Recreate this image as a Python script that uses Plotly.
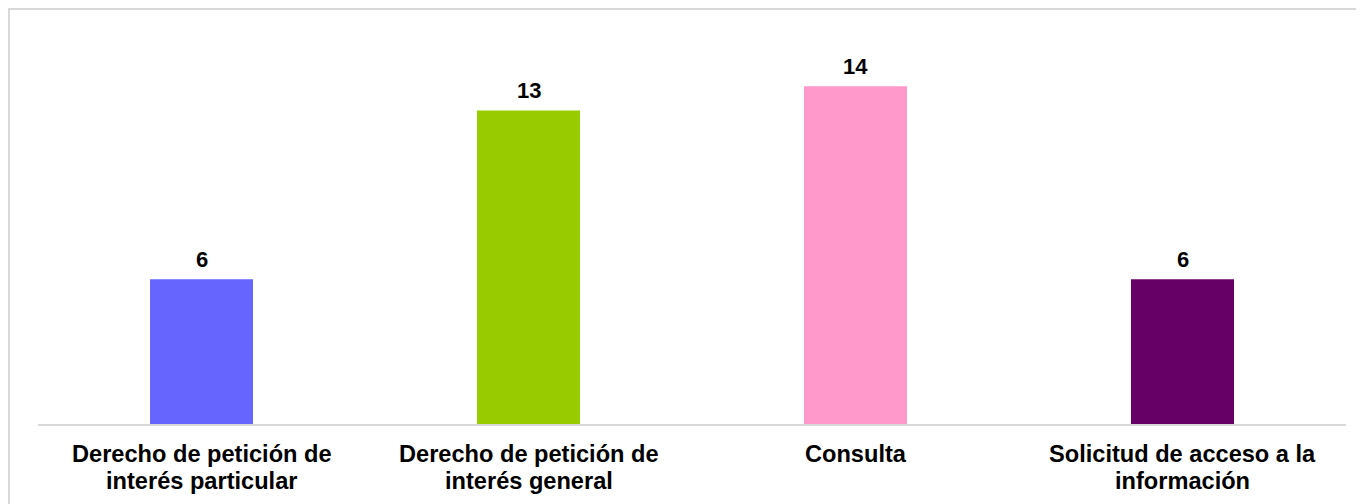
import plotly.graph_objects as go

categories = [["Derecho de petición de", "interés particular"],
              ["Derecho de petición de", "interés general"],
              ["Consulta"],
              ["Solicitud de acceso a la", "información"]]
values = [6, 13, 14, 6]
colors = ["#6666FF", "#99CC00", "#FF99CC", "#660066"]

W, H = 1364, 504
ml, mr, mt, mb = 30, 26, 30, 88
pw, ph = W - ml - mr, H - mt - mb
line_centers_px = [445.5, 472.5]  # vertical centre of each label line, figure pixels

fig = go.Figure()
fig.add_trace(go.Bar(
    x=list(range(len(values))), y=values,
    marker=dict(color=colors, line=dict(width=0)),
    width=0.315,
    hoverinfo="skip",
))

for i, v in enumerate(values):
    fig.add_annotation(x=i, y=v, text=str(v), showarrow=False,
                       yanchor="bottom", yshift=5,
                       font=dict(family="Liberation Sans", size=22, color="#000000", weight="bold"))

for i, lines in enumerate(categories):
    for j, ln in enumerate(lines):
        fig.add_annotation(x=i, xref="x", yref="paper",
                           y=(H - mb - line_centers_px[j]) / ph,
                           text=ln, showarrow=False, yanchor="middle",
                           font=dict(family="Liberation Sans", size=23.6, color="#000000", weight="bold"))

# outer border
fig.add_shape(type="rect", xref="paper", yref="paper",
              x0=(1 - ml) / pw, x1=(W + 20 - ml) / pw,
              y0=-(mb + 20) / ph, y1=1 + (mt - 1) / ph,
              line=dict(color="#D9D9D9", width=2), fillcolor="rgba(0,0,0,0)", layer="below")

fig.update_layout(
    width=W, height=H,
    margin=dict(l=ml, r=mr, t=mt, b=mb),
    paper_bgcolor="white", plot_bgcolor="white",
    showlegend=False,
    xaxis=dict(range=[-0.5, len(values) - 0.5], showgrid=False, zeroline=False,
               showline=True, linecolor="#D9D9D9", linewidth=2, ticks="",
               showticklabels=False),
    yaxis=dict(range=[0, 16], showgrid=False, zeroline=False, showline=False,
               showticklabels=False, ticks=""),
)

fig.write_html("out.html")
